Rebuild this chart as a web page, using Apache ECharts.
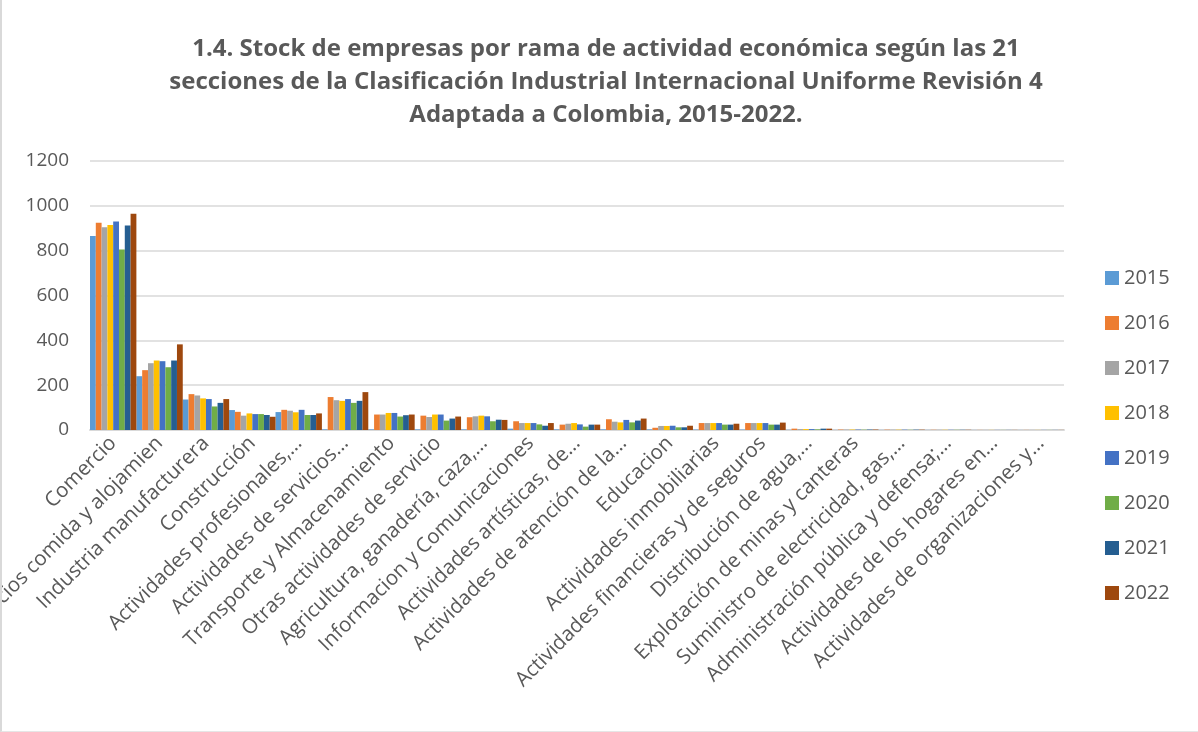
<!DOCTYPE html>
<html>
<head>
<meta charset="utf-8">
<script src="https://cdn.jsdelivr.net/npm/echarts@6/dist/echarts.min.js"></script>
<style>
html,body{margin:0;padding:0;background:#fff;}
#wrap{position:absolute;left:0;top:0;width:1198px;height:732px;box-sizing:border-box;border-left:2px solid #d9d9d9;border-bottom:1px solid #e6e6e6;}
#chart{width:1196px;height:731px;}
</style>
</head>
<body>
<div id="wrap"><div id="chart"></div></div>
<script>
const titleText = '1.4. Stock de empresas por rama de actividad económica según las 21\nsecciones de la Clasificación Industrial Internacional Uniforme Revisión 4\nAdaptada a Colombia, 2015-2022.';

const categories = [
  'Comercio',
  'Servicios comida y alojamien',
  'Industria manufacturera',
  'Construcción',
  'Actividades profesionales,…',
  'Actividades de servicios…',
  'Transporte y Almacenamiento',
  'Otras actividades de servicio',
  'Agricultura, ganadería, caza,…',
  'Informacion y Comunicaciones',
  'Actividades artísticas, de…',
  'Actividades de atención de la…',
  'Educacion',
  'Actividades inmobiliarias',
  'Actividades financieras y de seguros',
  'Distribución de agua,…',
  'Explotación de minas y canteras',
  'Suministro de electricidad, gas,…',
  'Administración pública y defensa;…',
  'Actividades de los hogares en…',
  'Actividades de organizaciones y…'
];

const years = ['2015','2016','2017','2018','2019','2020','2021','2022'];

const v2015 = [865, 240, 136, 89, 80, 3, 3, 3, 3, 6, 3, 3, 3, 2, 2, 1, 0.5, 0.5, 0.5, 0.3, 0.3];
const v2016 = [925, 267, 160, 81, 90, 147, 69, 64, 57, 39, 24, 48, 10, 31, 31, 6, 2, 1.5, 1, 0.5, 0.5];
const v2017 = [905, 298, 154, 64, 86, 133, 69, 58, 61, 31, 28, 37, 18, 31, 31, 4, 2, 1.5, 1, 0.5, 0.5];
const v2018 = [915, 310, 141, 74, 79, 130, 76, 69, 64, 31, 31, 34, 18, 31, 31, 4, 2, 1.5, 1, 0.5, 0.5];
const v2019 = [930, 307, 138, 71, 90, 138, 76, 69, 61, 31, 25, 45, 19, 31, 31, 4, 2, 1.5, 1, 0.5, 0.5];
const v2020 = [805, 280, 105, 71, 67, 121, 60, 42, 39, 25, 15, 34, 12, 24, 24, 3, 1.5, 1, 1, 0.5, 0.5];
const v2021 = [912, 310, 121, 67, 67, 130, 66, 51, 46, 19, 24, 42, 12, 24, 24, 6, 2, 1.5, 1, 0.5, 0.5];
const v2022 = [965, 382, 138, 59, 74, 169, 69, 60, 45, 31, 24, 51, 19, 28, 33, 6, 2, 1.5, 1, 0.5, 0.5];

const yTicks = { min: 0, max: 1200, interval: 200 };

const seriesValues = [v2015, v2016, v2017, v2018, v2019, v2020, v2021, v2022];
const colors = ['#5B9BD5','#ED7D31','#A5A5A5','#FFC000','#4472C4','#70AD47','#255E91','#9E480E'];

const chart = echarts.init(document.getElementById('chart'), null, {renderer:'canvas'});
chart.setOption({
  animation: false,
  color: colors,
  title: {
    text: titleText,
    left: 599,
    textAlign: 'center',
    top: 28,
    textStyle: {
      fontFamily: 'Open Sans',
      fontWeight: 'bold',
      fontSize: 24,
      lineHeight: 33,
      color: '#595959'
    }
  },
  legend: {
    orient: 'vertical',
    left: 1098,
    top: 263,
    icon: 'rect',
    itemWidth: 14,
    itemHeight: 14,
    itemGap: 25,
    data: years,
    textStyle: { fontFamily: 'Open Sans', fontSize: 20, color: '#595959', padding: [0,0,0,0] }
  },
  grid: { left: 88, right: 134, top: 161, bottom: 301, containLabel: false, outerBoundsMode: 'none' },
  xAxis: {
    type: 'category',
    data: categories,
    axisLine: { lineStyle: { color: '#d9d9d9', width: 2 } },
    axisTick: { show: false },
    axisLabel: {
      rotate: 45,
      interval: 0,
      margin: 10,
      fontFamily: 'Open Sans',
      fontSize: 20.5,
      color: '#595959'
    }
  },
  yAxis: {
    type: 'value',
    min: yTicks.min,
    max: yTicks.max,
    interval: yTicks.interval,
    axisLine: { show: false },
    axisTick: { show: false },
    splitLine: { lineStyle: { color: '#d9d9d9', width: 1.5 } },
    axisLabel: { fontFamily: 'Open Sans', fontSize: 19, color: '#595959', margin: 21, formatter: v => String(v) }
  },
  series: years.map((y, i) => ({
    name: y,
    type: 'bar',
    data: seriesValues[i],
    barGap: '0%',
    barCategoryGap: '0%'
  }))
});
</script>
</body>
</html>
